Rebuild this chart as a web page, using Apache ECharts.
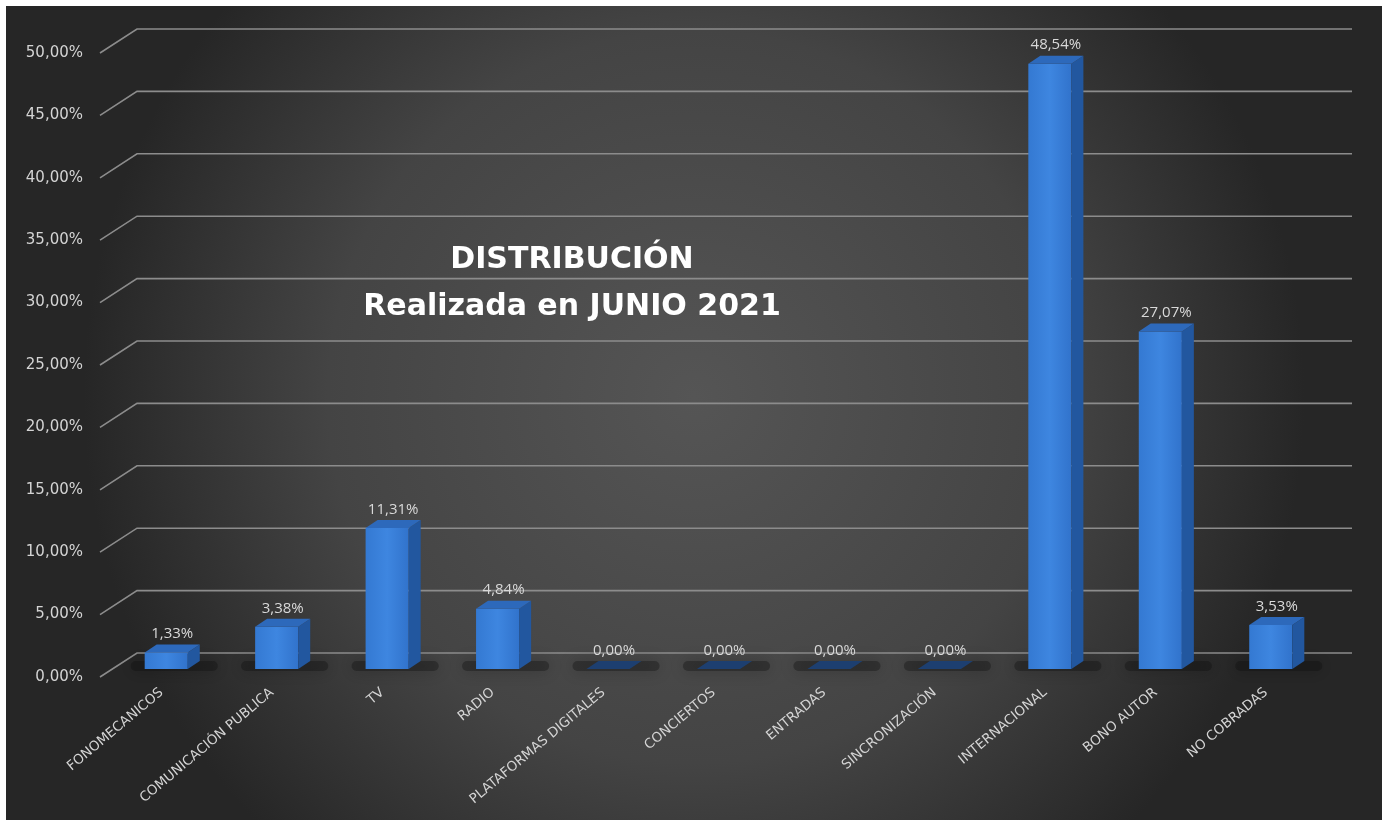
<!DOCTYPE html>
<html>
<head>
<meta charset="utf-8">
<script src="https://cdn.jsdelivr.net/npm/echarts@6/dist/echarts.min.js"></script>
<style>
  html, body { margin: 0; padding: 0; background: #ffffff; }
  #chart { width: 1392px; height: 820px; }
</style>
</head>
<body>
<div id="chart"></div>
<script>
// datos de la distribución
const categories = [
  "FONOMECANICOS", "COMUNICACIÓN PUBLICA", "TV", "RADIO", "PLATAFORMAS DIGITALES",
  "CONCIERTOS", "ENTRADAS", "SINCRONIZACIÓN", "INTERNACIONAL", "BONO AUTOR", "NO COBRADAS"
];
const percentages = [1.33, 3.38, 11.31, 4.84, 0, 0, 0, 0, 48.54, 27.07, 3.53];
const tickValues = [0, 5, 10, 15, 20, 25, 30, 35, 40, 45, 50];
const titleLines = ["DISTRIBUCIÓN", "Realizada en JUNIO 2021"];

const fmt = v => v.toFixed(2).replace(".", ",") + "%";

const chart = echarts.init(document.getElementById("chart"));

// profundidad de la pared y de las barras
const wallDx = 37, wallDy = -24, wallLen = 1252;
const barDx = 12, barDy = -8;

const option = {
  animation: false,
  graphic: [{
    type: "rect",
    z: -10,
    shape: { x: 6, y: 6, width: 1376, height: 814 },
    style: {
      fill: new echarts.graphic.RadialGradient(0.5, 0.48, 0.75, [
        { offset: 0, color: "#555555" },
        { offset: 0.6, color: "#444444" },
        { offset: 1, color: "#262626" }
      ])
    }
  }],
  title: {
    text: titleLines.join("\n"),
    left: 567,
    top: 232,
    textAlign: "center",
    textStyle: {
      color: "#ffffff",
      fontFamily: "DejaVu Sans",
      fontWeight: "bold",
      fontSize: 30,
      lineHeight: 47
    }
  },
  grid: [
    { left: 100, right: 40, top: 53, bottom: 143 },
    { left: 111, right: 66, top: 45.5, bottom: 151 }
  ],
  xAxis: [
    { gridIndex: 0, type: "value", min: 0, max: 1, show: false },
    {
      gridIndex: 1,
      type: "category",
      data: categories,
      axisLine: { show: false },
      axisTick: { show: false },
      axisLabel: {
        interval: 0,
        rotate: 40,
        margin: 18,
        padding: [0, 6, 0, 0],
        color: "#d4d4d4",
        fontFamily: "DejaVu Sans",
        fontSize: 13.5
      }
    }
  ],
  yAxis: [
    {
      gridIndex: 0,
      type: "value",
      min: 0,
      max: 50,
      interval: 5,
      axisLine: { show: false },
      axisTick: { show: false },
      splitLine: { show: false },
      axisLabel: {
        margin: 17,
        color: "#d4d4d4",
        fontFamily: "DejaVu Sans",
        fontSize: 15,
        formatter: v => fmt(v)
      }
    },
    { gridIndex: 1, type: "value", min: 0, max: 50, show: false }
  ],
  series: [
    {
      // líneas de la pared del fondo
      type: "custom",
      xAxisIndex: 0,
      yAxisIndex: 0,
      z: 1,
      data: tickValues.map(v => [0, v]),
      renderItem(params, api) {
        const p = api.coord([0, api.value(1)]);
        return {
          type: "polyline",
          shape: {
            points: [
              [p[0], p[1]],
              [p[0] + wallDx, p[1] + wallDy],
              [p[0] + wallLen, p[1] + wallDy]
            ]
          },
          style: { stroke: "#8c8c8c", lineWidth: 1.6, fill: null }
        };
      }
    },
    {
      // barras 3D
      type: "custom",
      xAxisIndex: 1,
      yAxisIndex: 1,
      z: 5,
      data: percentages.map((v, i) => [i, v]),
      renderItem(params, api) {
        const idx = api.value(0), v = api.value(1);
        const base = api.coord([idx, 0]);
        const top = api.coord([idx, v]);
        const w = api.size([1, 0])[0] * 0.39;
        const x0 = base[0] - w / 2, x1 = base[0] + w / 2;
        const yb = base[1], yt = top[1];
        const zero = v === 0;
        const children = [
          {
            type: "rect",
            shape: { x: x0 - 14, y: yb - 8, width: w + 44, height: 10, r: 5 },
            style: { fill: "rgba(15,15,15,0.35)", shadowBlur: 16, shadowColor: "rgba(0,0,0,0.7)" }
          }
        ];
        if (!zero) {
          children.push({
            type: "rect",
            shape: { x: x0, y: yt, width: w, height: yb - yt },
            style: {
              fill: new echarts.graphic.LinearGradient(0, 0, 1, 0, [
                { offset: 0, color: "#3479d2" },
                { offset: 0.5, color: "#3e86e0" },
                { offset: 1, color: "#3173cc" }
              ])
            }
          });
          children.push({
            type: "polygon",
            shape: { points: [[x1, yt], [x1 + barDx, yt + barDy], [x1 + barDx, yb + barDy], [x1, yb]] },
            style: { fill: "#22579f" }
          });
        }
        children.push({
          type: "polygon",
          shape: { points: [[x0, yt], [x0 + barDx, yt + barDy], [x1 + barDx, yt + barDy], [x1, yt]] },
          style: { fill: zero ? "#1d3f70" : "#2d69bb" }
        });
        children.push({
          type: "text",
          style: {
            x: base[0] + barDx / 2,
            y: yt + barDy - 3,
            text: fmt(v),
            fill: "#d9d9d9",
            font: "15px 'Open Sans'",
            align: "center",
            verticalAlign: "bottom"
          }
        });
        return { type: "group", children };
      }
    }
  ]
};

chart.setOption(option);
</script>
</body>
</html>
